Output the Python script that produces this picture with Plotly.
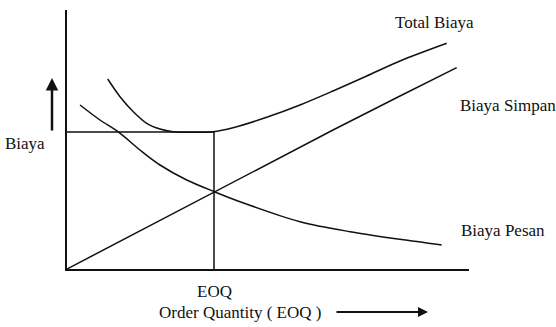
import plotly.graph_objects as go

# Curves (x = order quantity, y = cost; arbitrary units)
total_x = [40.7, 53, 66.3, 79.7, 93, 106, 126, 146, 166, 199.7, 233, 266, 299.7, 333, 379.7]
total_y = [190, 172.3, 157.3, 145.7, 140, 137.3, 136.7, 137.3, 141.3, 151.7, 164, 178, 193, 208, 225.7]

simpan_x = [0, 148, 199.7, 266, 333, 389.7]
simpan_y = [0, 77.3, 104, 139, 173, 201.3]

pesan_x = [13, 33, 51, 73, 93, 119.7, 147.3, 173, 233, 283, 333, 374.7]
pesan_y = [164, 149, 137.3, 119, 104, 89, 77.3, 67.3, 47.3, 37.3, 29.7, 24]

eoq_x = 147
eoq_cost = 137

X_MAX = 402
Y_MAX = 259

INK = "#111111"
FONT = "Liberation Serif, Times New Roman, serif"

fig = go.Figure()
line = dict(color=INK, width=1.5)
spl = dict(color=INK, width=1.5, shape="spline", smoothing=0.9)
fig.add_trace(go.Scatter(x=total_x, y=total_y, mode="lines", line=spl))
fig.add_trace(go.Scatter(x=simpan_x, y=simpan_y, mode="lines", line=line))
fig.add_trace(go.Scatter(x=pesan_x, y=pesan_y, mode="lines", line=spl))
# EOQ guide lines
fig.add_trace(go.Scatter(x=[0, eoq_x, eoq_x], y=[eoq_cost, eoq_cost, 0], mode="lines", line=line))

def px(v):
    return v / X_MAX

def py(v):
    return v / Y_MAX

ann = []
def txt(x, y, s, anchor="center"):
    ann.append(dict(x=px(x), y=py(y), xref="paper", yref="paper", text=s, showarrow=False,
                    xanchor=anchor, yanchor="middle", font=dict(family=FONT, size=17, color=INK)))

txt(326, 247, "Total Biaya", "left")
txt(391, 164, "Biaya Simpan", "left")
txt(392, 39, "Biaya Pesan", "left")
txt(-64, 126, "Biaya", "left")
txt(eoq_x, -22, "EOQ")
txt(173, -43, "Order Quantity ( EOQ )")

# arrows (tail offsets in pixels)
ann.append(dict(x=px(361), y=py(-43), ax=-93, ay=0, xref="paper", yref="paper",
                axref="pixel", ayref="pixel",
                showarrow=True, arrowhead=2, arrowsize=1, arrowwidth=2, arrowcolor=INK, text=""))
ann.append(dict(x=px(-15), y=py(191), ax=0, ay=54, xref="paper", yref="paper",
                axref="pixel", ayref="pixel",
                showarrow=True, arrowhead=2, arrowsize=1, arrowwidth=2.5, arrowcolor=INK, text=""))

fig.update_layout(
    width=556, height=327,
    margin=dict(l=67, r=87, t=10, b=58),
    paper_bgcolor="white", plot_bgcolor="white",
    showlegend=False,
    annotations=ann,
    xaxis=dict(range=[0, X_MAX], showgrid=False, zeroline=False, showticklabels=False,
               ticks="", showline=True, linecolor=INK, linewidth=1.5),
    yaxis=dict(range=[0, Y_MAX], showgrid=False, zeroline=False, showticklabels=False,
               ticks="", showline=True, linecolor=INK, linewidth=1.5),
)

fig.write_html("out.html")
